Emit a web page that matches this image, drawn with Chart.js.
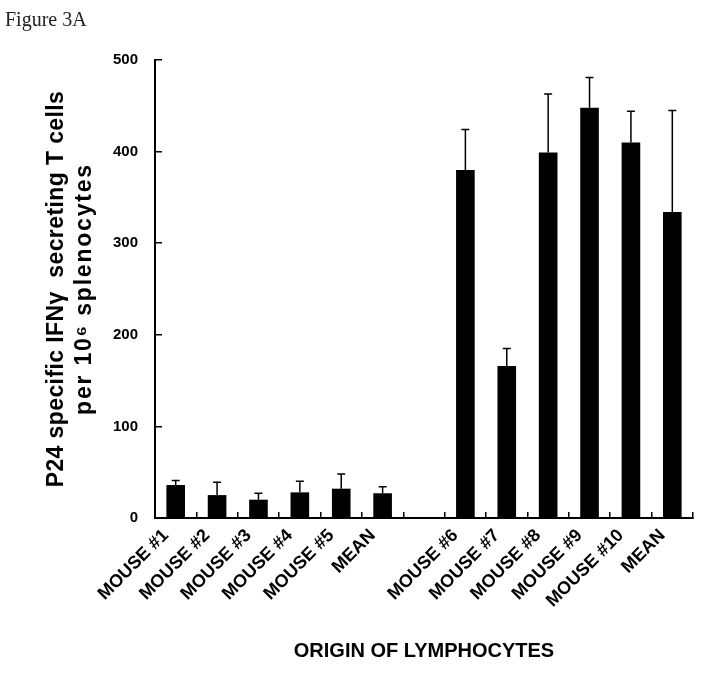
<!DOCTYPE html>
<html>
<head>
<meta charset="utf-8">
<script src="https://cdn.jsdelivr.net/npm/chart.js@4"></script>
<style>
  body { margin: 0; background: #fff; }
  #wrap { position: relative; width: 701px; height: 680px; }
  #fig { position: absolute; left: 5px; top: 9px; font: 20px/20px "Liberation Serif", "Times New Roman", serif; color: #222; }
</style>
</head>
<body>
<div id="wrap">
  <div id="fig">Figure 3A</div>
  <canvas id="myChart" width="701" height="680"></canvas>
</div>
<script>
// mice groups, one empty slot between the two groups
var categories = ['MOUSE #1', 'MOUSE #2', 'MOUSE #3', 'MOUSE #4', 'MOUSE #5', 'MEAN', '',
                  'MOUSE #6', 'MOUSE #7', 'MOUSE #8', 'MOUSE #9', 'MOUSE #10', 'MEAN'];
var spots = [36, 25, 20, 28, 32, 27, null, 380, 166, 399, 448, 410, 334];
var spotsErr = [5, 14, 7, 12, 16, 7, null, 44, 19, 64, 33, 34, 111];
var yTicks = [0, 100, 200, 300, 400, 500];
var yTitleLines = ['P24 specific IFNγ  secreting T cells', 'per 10\u2076 splenocytes'];

// upper error bars, drawn on top of each bar
var errorBars = {
    id: 'errorBars',
    afterDatasetsDraw: function (chart) {
        var ctx = chart.ctx;
        var y = chart.scales.y;
        var meta = chart.getDatasetMeta(0);
        ctx.save();
        ctx.strokeStyle = '#000';
        ctx.lineWidth = 1.5;
        meta.data.forEach(function (bar, i) {
            if (spots[i] == null) return;
            var top = y.getPixelForValue(spots[i] + spotsErr[i]);
            var base = y.getPixelForValue(spots[i]);
            ctx.beginPath();
            ctx.moveTo(bar.x, base);
            ctx.lineTo(bar.x, top);
            ctx.moveTo(bar.x - 4, top);
            ctx.lineTo(bar.x + 4, top);
            ctx.stroke();
        });
        ctx.restore();
    }
};

// two-line rotated y title
var yTitle = {
    id: 'yTitle',
    afterDraw: function (chart) {
        var ctx = chart.ctx;
        var area = chart.chartArea;
        var cy = (area.top + area.bottom) / 2;
        var spacing = [0.4, 1.8];
        ctx.save();
        ctx.fillStyle = '#000';
        ctx.textAlign = 'center';
        ctx.textBaseline = 'middle';
        ctx.font = 'bold 23px "Liberation Sans", Arial, sans-serif';
        yTitleLines.forEach(function (line, i) {
            ctx.save();
            ctx.translate(57 + i * 28, cy);
            ctx.rotate(-Math.PI / 2);
            ctx.letterSpacing = spacing[i] + 'px';
            ctx.fillText(line, 0, 0);
            ctx.restore();
        });
        ctx.restore();
    }
};

Chart.defaults.color = '#000';
Chart.defaults.font.family = '"Liberation Sans", Arial, sans-serif';

var ctx = document.getElementById('myChart').getContext('2d');
var myChart = new Chart(ctx, {
    type: 'bar',
    data: {
        labels: categories,
        datasets: [{
            data: spots,
            backgroundColor: '#000',
            borderWidth: 0,
            barPercentage: 0.45,
            categoryPercentage: 1.0
        }]
    },
    options: {
        responsive: false,
        animation: false,
        layout: { padding: { top: 60, right: 8, bottom: 0, left: 0 } },
        plugins: {
            legend: { display: false },
            tooltip: { enabled: false }
        },
        scales: {
            x: {
                grid: {
                    offset: true,
                    drawOnChartArea: false,
                    tickLength: -6,
                    color: '#000',
                    lineWidth: 1.5
                },
                border: { color: '#000', width: 2 },
                ticks: {
                    autoSkip: false,
                    maxRotation: 45,
                    minRotation: 45,
                    padding: 13,
                    labelOffset: -10,
                    font: { size: 18, weight: 'bold' }
                },
                title: {
                    display: true,
                    text: 'ORIGIN OF LYMPHOCYTES',
                    font: { size: 20, weight: 'bold' },
                    padding: { top: 0, bottom: 17 }
                },
                afterFit: function (scale) { scale.height = 162; }
            },
            y: {
                min: 0,
                max: 500,
                afterBuildTicks: function (scale) {
                    scale.ticks = yTicks.map(function (v) { return { value: v }; });
                },
                grid: {
                    drawOnChartArea: false,
                    tickLength: -7,
                    color: '#000',
                    lineWidth: 1.5
                },
                border: { color: '#000', width: 2 },
                ticks: {
                    padding: 24,
                    font: { size: 15, weight: 'bold' }
                },
                afterFit: function (scale) { scale.width = 155; }
            }
        }
    },
    plugins: [errorBars, yTitle]
});
</script>
</body>
</html>
